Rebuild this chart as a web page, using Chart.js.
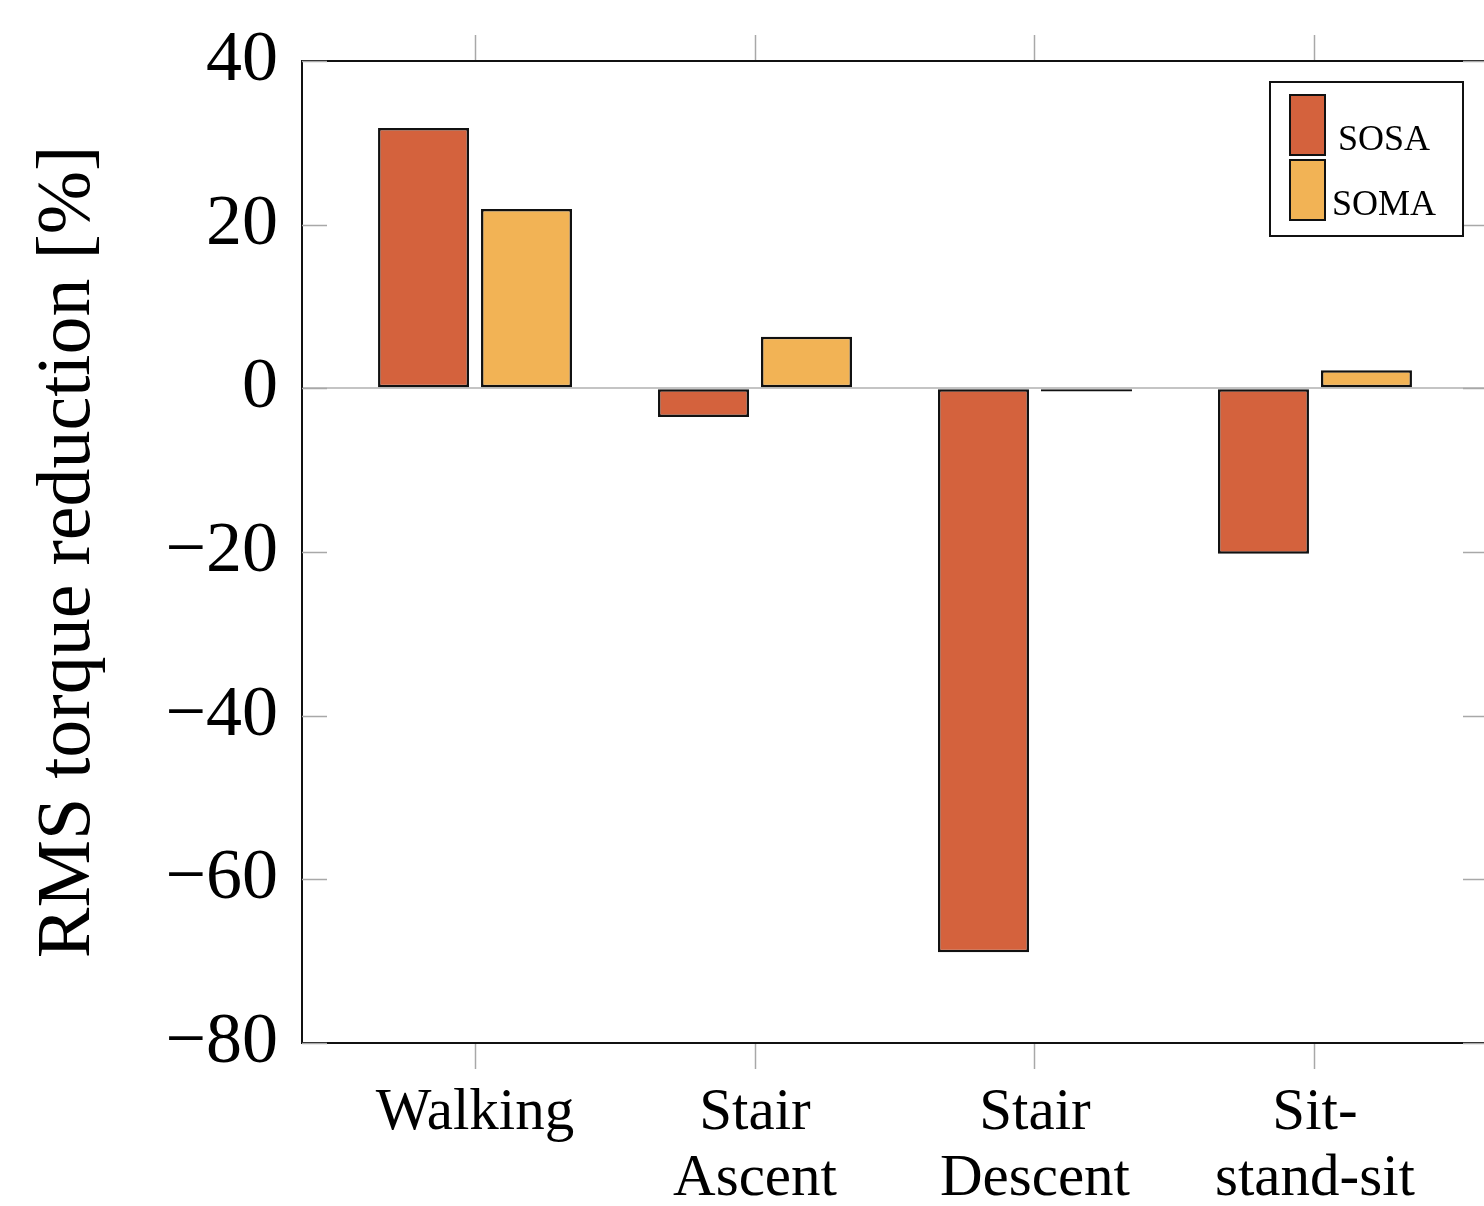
<!DOCTYPE html>
<html>
<head>
<meta charset="utf-8">
<title>RMS torque reduction</title>
<script src="https://cdn.jsdelivr.net/npm/chart.js@4/dist/chart.umd.min.js"></script>
<style>
  html, body { margin: 0; padding: 0; background: #fff; overflow: hidden; }
  canvas { display: block; }
</style>
</head>
<body>
<canvas id="c" width="1500" height="1206"></canvas>
<script>
// Tasks and per-task RMS torque reduction (%)
const categories = [["Walking"], ["Stair", "Ascent"], ["Stair", "Descent"], ["Sit-", "stand-sit"]];
const seriesNames = ["SOSA", "SOMA"];
const sosaValues = [31.8, -3.5, -68.9, -20.2];
const somaValues = [21.9, 6.3, -0.4, 2.2];
const yTicks = [-80, -60, -40, -20, 0, 20, 40];
const yTitle = "RMS torque reduction [%]";

const SERIF = "'Liberation Serif', 'Times New Roman', serif";
const TICK_GREY = "#a8a8a8";

const toPoints = vals => vals.map((v, i) => ({ x: i, y: v }));

// Short tick marks drawn inward from the left and right frame edges
const innerYTicks = {
  id: "innerYTicks",
  beforeDatasetsDraw(chart) {
    const { ctx, chartArea, scales } = chart;
    const len = 25;
    ctx.save();
    ctx.strokeStyle = TICK_GREY;
    ctx.lineWidth = 1.5;
    yTicks.forEach(v => {
      const y = Math.round(scales.y.getPixelForValue(v)) + 0.5;
      ctx.beginPath();
      ctx.moveTo(chartArea.left, y);
      ctx.lineTo(chartArea.left + len, y);
      ctx.moveTo(chartArea.right - len, y);
      ctx.lineTo(chartArea.right, y);
      ctx.stroke();
    });
    ctx.restore();
  }
};

// Framed legend in the upper-right corner of the plot
const boxedLegend = {
  id: "boxedLegend",
  afterDraw(chart) {
    const { ctx, chartArea } = chart;
    const left = chartArea.right - 218, top = chartArea.top + 21;
    const w = 193, h = 154;
    ctx.save();
    ctx.fillStyle = "#fff";
    ctx.fillRect(left, top, w, h);
    ctx.strokeStyle = "#111";
    ctx.lineWidth = 2;
    ctx.strokeRect(left, top, w, h);
    ctx.font = "36px " + SERIF;
    ctx.textAlign = "center";
    ctx.textBaseline = "alphabetic";
    chart.data.datasets.forEach((ds, i) => {
      const sy = top + 13 + i * 65;
      ctx.fillStyle = ds.backgroundColor;
      ctx.fillRect(left + 20, sy, 35, 60);
      ctx.strokeStyle = "#111";
      ctx.lineWidth = 2;
      ctx.strokeRect(left + 20, sy, 35, 60);
      ctx.fillStyle = "#000";
      ctx.fillText(ds.label, left + 114, top + 68 + i * 65);
    });
    ctx.restore();
  }
};

const xTickValues = chartScale => {
  chartScale.ticks = categories.map((_, i) => ({ value: i }));
};

new Chart(document.getElementById("c"), {
  type: "bar",
  data: {
    datasets: [
      {
        label: seriesNames[0],
        data: toPoints(sosaValues),
        backgroundColor: "#D4623D",
        borderColor: "#111",
        borderWidth: 2.5,
        borderSkipped: false
      },
      {
        label: seriesNames[1],
        data: toPoints(somaValues),
        backgroundColor: "#F2B355",
        borderColor: "#111",
        borderWidth: 2.5,
        borderSkipped: false
      }
    ]
  },
  options: {
    responsive: false,
    devicePixelRatio: 1,
    animation: false,
    categoryPercentage: 0.7357,
    barPercentage: 0.8835,
    layout: { padding: { left: 0, right: 12, top: 0, bottom: 0 } },
    plugins: {
      legend: { display: false },
      tooltip: { enabled: false }
    },
    scales: {
      x: {
        type: "linear",
        position: "bottom",
        offset: false,
        min: -0.618,
        max: 3.618,
        afterBuildTicks: xTickValues,
        afterFit(s) { s.height = 163; },
        grid: {
          offset: false,
          drawOnChartArea: false,
          drawTicks: true,
          tickLength: 26,
          tickColor: TICK_GREY,
          tickWidth: 1.5
        },
        border: { display: true, color: "#111", width: 2 },
        ticks: {
          color: "#000",
          padding: 11,
          maxRotation: 0,
          autoSkip: false,
          font: { family: SERIF, size: 59, lineHeight: 1.12 },
          callback: v => categories[v] || ""
        }
      },
      x2: {
        type: "linear",
        position: "top",
        offset: false,
        min: -0.618,
        max: 3.618,
        afterBuildTicks: xTickValues,
        afterFit(s) { s.height = 61; },
        grid: {
          offset: false,
          drawOnChartArea: false,
          drawTicks: true,
          tickLength: 26,
          tickColor: TICK_GREY,
          tickWidth: 1.5
        },
        border: { display: true, color: "#111", width: 2 },
        ticks: { display: false }
      },
      y: {
        min: -80,
        max: 40,
        afterBuildTicks(s) { s.ticks = yTicks.map(v => ({ value: v })); },
        afterFit(s) {
          s.width = 302;
          s.paddingTop = 0;
          s.paddingBottom = 0;
        },
        grid: {
          drawOnChartArea: true,
          drawTicks: false,
          color: c => (c.tick && c.tick.value === 0 ? "#c4c4c4" : "rgba(0,0,0,0)"),
          lineWidth: 2
        },
        border: { display: true, color: "#111", width: 2 },
        ticks: {
          color: "#000",
          padding: 24,
          font: { family: SERIF, size: 72 },
          callback: v => (v < 0 ? "\u2212" + Math.abs(v) : String(v))
        },
        title: {
          display: true,
          text: yTitle,
          color: "#000",
          font: { family: SERIF, size: 76, lineHeight: 1 },
          padding: { top: 31, bottom: 0 }
        }
      }
    }
  },
  plugins: [innerYTicks, boxedLegend]
});
</script>
</body>
</html>
